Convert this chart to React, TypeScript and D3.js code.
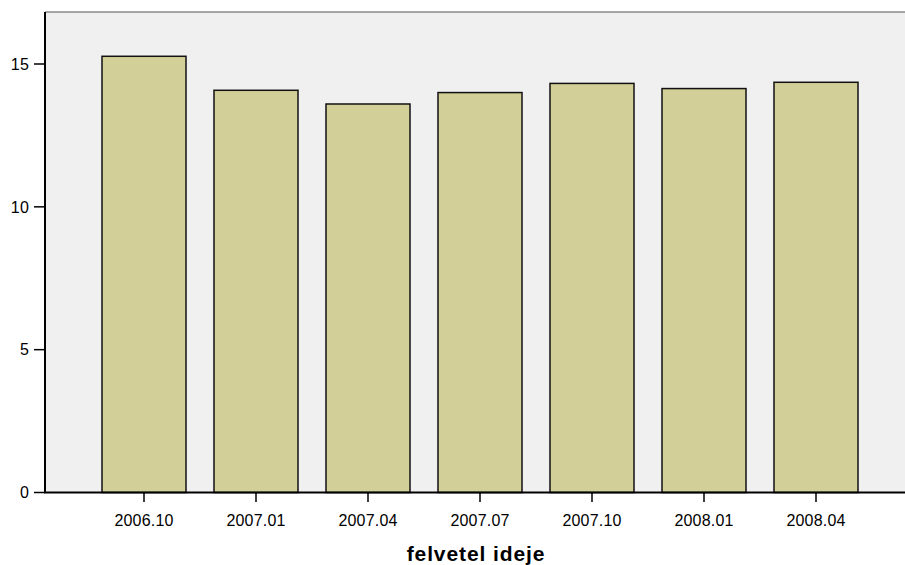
import React from "react";
import * as d3 from "d3";

const categories = ["2006.10", "2007.01", "2007.04", "2007.07", "2007.10", "2008.01", "2008.04"];
const values = [15.27, 14.08, 13.6, 14.0, 14.32, 14.14, 14.36];
const yTicks = [0, 5, 10, 15];
const xTitle = "felvetel ideje";

const W = 905;
const H = 565;
const left = 45;
const top = 12;
const bottom = 492.5;
const FONT = "'Liberation Sans', Arial, Helvetica, sans-serif";

export default function App() {
  const x = d3
    .scaleBand<string>()
    .domain(categories)
    .range([88, 872])
    .paddingInner(0.25)
    .paddingOuter(0.125);
  const y = d3.scaleLinear().domain([0, 15]).range([bottom, 64]);

  return (
    <svg
      width={W}
      height={H}
      style={{ position: "absolute", left: 0, top: 0, background: "#fff" }}
      fontFamily={FONT}
    >
      <rect x={left} y={top} width={W - left} height={bottom - top} fill="#f0f0f0" />
      <line x1={left} x2={W} y1={top} y2={top} stroke="#555" strokeWidth={1.2} />
      {categories.map((c, i) => (
        <rect
          key={c}
          x={x(c)!}
          y={y(values[i])}
          width={x.bandwidth()}
          height={bottom - y(values[i])}
          fill="#d3cf98"
          stroke="#111"
          strokeWidth={1.5}
        />
      ))}
      <line x1={left} x2={left} y1={top} y2={bottom} stroke="#000" strokeWidth={2} />
      <line x1={left - 1} x2={W} y1={bottom} y2={bottom} stroke="#000" strokeWidth={2} />
      {yTicks.map((t) => (
        <g key={t}>
          <line x1={34} x2={left} y1={y(t)} y2={y(t)} stroke="#000" strokeWidth={1.5} />
          <text
            x={29}
            y={y(t)}
            dy="0.36em"
            textAnchor="end"
            fontSize={16}
            letterSpacing={0.2}
            fill="#000"
          >
            {t}
          </text>
        </g>
      ))}
      {categories.map((c) => {
        const cx = x(c)! + x.bandwidth() / 2;
        return (
          <g key={c}>
            <line x1={cx} x2={cx} y1={bottom} y2={502} stroke="#000" strokeWidth={1.5} />
            <text
              x={cx}
              y={526}
              textAnchor="middle"
              fontSize={16}
              letterSpacing={0.2}
              fill="#000"
            >
              {c}
            </text>
          </g>
        );
      })}
      <text
        x={476}
        y={561}
        textAnchor="middle"
        fontSize={21}
        fontWeight="bold"
        letterSpacing={0.9}
        fill="#000"
      >
        {xTitle}
      </text>
    </svg>
  );
}
